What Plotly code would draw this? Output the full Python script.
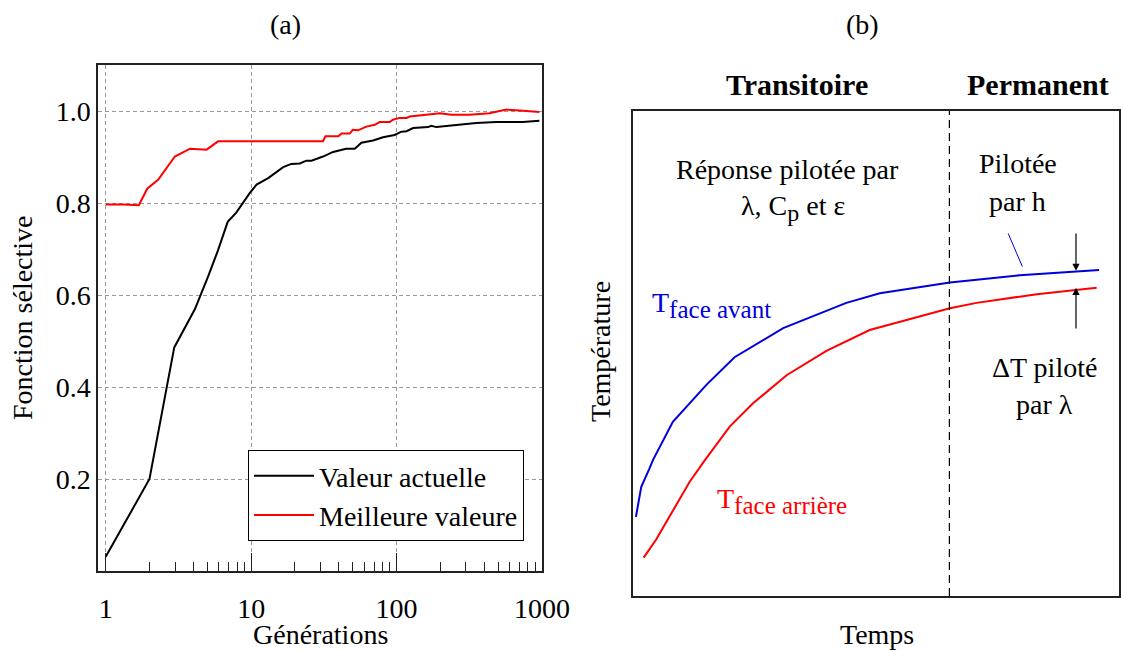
import plotly.graph_objects as go

# (a) fonction selective vs generations
gen_actual = [1, 2, 2.96, 4.1, 5.07, 5.9, 6.9, 7.9, 9.8, 10.9, 13.1, 16.6, 18.9, 21.6, 24, 26,
              31.2, 36.6, 45, 51.5, 53.7, 57.3, 68.9, 80.7, 97, 108, 117, 130, 165, 173, 188,
              257, 353, 484, 738, 960]
val_actual = [0.031, 0.2, 0.486, 0.569, 0.641, 0.696, 0.759, 0.779, 0.822, 0.840, 0.854, 0.878,
              0.885, 0.886, 0.892, 0.892, 0.901, 0.911, 0.918, 0.918, 0.923, 0.931, 0.936, 0.943,
              0.948, 0.955, 0.956, 0.963, 0.965, 0.968, 0.965, 0.969, 0.974, 0.976, 0.976, 0.979]

gen_best = [1, 1.32, 1.69, 1.93, 2.3, 2.99, 3.8, 4.94, 5.93, 31.2, 32.4, 39.8, 41.8, 47.6, 50,
            54.3, 62, 70.8, 76.5, 89.7, 94.4, 105, 117, 123, 160, 198, 238, 318, 436, 568, 701, 960]
val_best = [0.797, 0.797, 0.795, 0.831, 0.851, 0.901, 0.918, 0.916, 0.934, 0.934, 0.945, 0.945,
            0.951, 0.951, 0.959, 0.958, 0.966, 0.970, 0.976, 0.976, 0.981, 0.985, 0.985, 0.988,
            0.992, 0.995, 0.992, 0.992, 0.995, 1.003, 1.001, 0.998]

x_ticks = [1, 10, 100, 1000]
x_minor = [d * m for m in (1, 10, 100) for d in range(2, 10)]
y_ticks = [0.2, 0.4, 0.6, 0.8, 1.0]

# (b) schematic temperature response
t_front = [0.006, 0.017, 0.034, 0.041, 0.082, 0.113, 0.151, 0.209, 0.309, 0.439, 0.508, 0.652, 0.796, 0.959]
T_front = [0.163, 0.225, 0.263, 0.280, 0.359, 0.394, 0.435, 0.492, 0.552, 0.604, 0.624, 0.646, 0.661, 0.672]
t_back = [0.022, 0.048, 0.117, 0.148, 0.199, 0.247, 0.316, 0.398, 0.487, 0.652, 0.707, 0.831, 0.954]
T_back = [0.079, 0.117, 0.236, 0.280, 0.349, 0.397, 0.455, 0.505, 0.548, 0.593, 0.604, 0.622, 0.635]
regime_split = 0.651

FONT = "Liberation Serif, Times New Roman, serif"
FRAME = "#222222"
BLUE = "#0000dd"

fig = go.Figure()
fig.add_trace(go.Scatter(x=gen_actual, y=val_actual, mode="lines", name="Valeur actuelle",
                         line=dict(color="black", width=2), xaxis="x", yaxis="y"))
fig.add_trace(go.Scatter(x=gen_best, y=val_best, mode="lines", name="Meilleure valeure",
                         line=dict(color="red", width=2), xaxis="x", yaxis="y"))
fig.add_trace(go.Scatter(x=t_front, y=T_front, mode="lines", showlegend=False,
                         line=dict(color=BLUE, width=2), xaxis="x2", yaxis="y2"))
fig.add_trace(go.Scatter(x=t_back, y=T_back, mode="lines", showlegend=False,
                         line=dict(color="red", width=2), xaxis="x2", yaxis="y2"))

grid = dict(showgrid=True, gridcolor="#9a9a9a", gridwidth=1, griddash="4px,3px")

fig.update_layout(
    width=1121, height=650, autosize=False,
    margin=dict(l=0, r=0, t=0, b=0, pad=0, autoexpand=False),
    paper_bgcolor="white", plot_bgcolor="white",
    font=dict(family=FONT, size=28, color="black"),
    xaxis=dict(domain=[98 / 1121, 542 / 1121], type="log", range=[-0.053, 3.0],
               tickvals=x_ticks, ticktext=[str(v) for v in x_ticks],
               ticks="inside", ticklen=18, tickcolor=FRAME, ticklabelstandoff=12,
               minor=dict(tickvals=x_minor, ticks="inside", ticklen=9, tickcolor=FRAME, showgrid=False),
               showline=True, linecolor=FRAME, linewidth=1.5, mirror=True, zeroline=False,
               automargin=False, anchor="y", **grid),
    yaxis=dict(domain=[1 - 571 / 650, 1 - 65 / 650], range=[0, 1.1],
               tickvals=y_ticks, ticktext=["%.1f" % v for v in y_ticks], ticks="",
               ticklabelstandoff=0,
               showline=True, linecolor=FRAME, linewidth=1.5, mirror=True, zeroline=False,
               automargin=False, anchor="x", **grid),
    xaxis2=dict(domain=[633 / 1121, 1119 / 1121], range=[0, 1], showticklabels=False, ticks="",
                showgrid=False, zeroline=False, showline=True, linecolor=FRAME, linewidth=1.5,
                mirror=True, automargin=False, anchor="y2"),
    yaxis2=dict(domain=[1 - 596 / 650, 1 - 110.7 / 650], range=[0, 1], showticklabels=False, ticks="",
                showgrid=False, zeroline=False, showline=True, linecolor=FRAME, linewidth=1.5,
                mirror=True, automargin=False, anchor="x2"),
    legend=dict(x=248 / 1121, y=1 - 450 / 650, xanchor="left", yanchor="top",
                bgcolor="white", bordercolor="black", borderwidth=1,
                font=dict(family=FONT, size=28), itemwidth=60, tracegroupgap=0),
)

# regime boundary and annotation pointers on panel (b)
fig.add_shape(type="line", xref="x2", yref="y2", x0=regime_split, x1=regime_split, y0=0, y1=1,
              line=dict(color="black", width=1.2, dash="8px,5px"))
fig.add_shape(type="line", xref="x2", yref="y2", x0=0.772, x1=0.801, y0=0.747, y1=0.679,
              line=dict(color=BLUE, width=1))

arrow = dict(xref="x2", yref="y2", axref="x2", ayref="y2", text="", showarrow=True,
             arrowhead=2, arrowsize=1.2, arrowwidth=1.2, arrowcolor="black")
fig.add_annotation(x=0.9115, y=0.670, ax=0.9115, ay=0.750, **arrow)
fig.add_annotation(x=0.9115, y=0.635, ax=0.9115, ay=0.548, **arrow)

def label(text, x, y, ref="paper", size=28, color="black", angle=0, xanchor="center"):
    xr, yr = ("x2", "y2") if ref == "b" else ("paper", "paper")
    fig.add_annotation(text=text, x=x, y=y, xref=xr, yref=yr, showarrow=False,
                       font=dict(family=FONT, size=size, color=color), textangle=angle,
                       xanchor=xanchor, yanchor="middle")

def sub(s, px=25):
    style = "font-family:'Liberation Serif','Times New Roman',serif;font-size:%dpx" % px
    return '<sub><span style="%s">%s</span></sub>' % (style, s)

# panel titles and axis titles
label("(a)", 285 / 1121, 1 - 25 / 650)
label("(b)", 862 / 1121, 1 - 25 / 650)
label("Générations", 320 / 1121, 1 - 634 / 650)
label("Fonction sélective", 22 / 1121, 1 - 318 / 650, angle=-90)
label("Temps", 877 / 1121, 1 - 634 / 650)
label("Température", 600 / 1121, 1 - 352 / 650, angle=-90)
label("<b>Transitoire</b>", 797 / 1121, 1 - 85 / 650, size=30)
label("<b>Permanent</b>", 1038 / 1121, 1 - 85 / 650, size=30)

# text inside panel (b)
label("Réponse pilotée par", 0.318, 0.878, ref="b")
label("λ, C" + sub("p", 24) + " et ε", 0.329, 0.800, ref="b")
label("Pilotée", 0.792, 0.892, ref="b")
label("par h", 0.792, 0.8125, ref="b")
label("ΔT piloté", 0.846, 0.470, ref="b")
label("par λ", 0.846, 0.394, ref="b")
label("T" + sub("face avant"), 0.034, 0.600, ref="b", color=BLUE, xanchor="left")
label("T" + sub("face arrière"), 0.168, 0.195, ref="b", color="red", xanchor="left")

page_fix = ("document.documentElement.style.overflow='hidden';"
            "document.body.style.overflow='hidden';"
            "document.body.style.margin='0px';")
fig.write_html("out.html", config={"responsive": False, "displayModeBar": False},
               post_script=page_fix)
